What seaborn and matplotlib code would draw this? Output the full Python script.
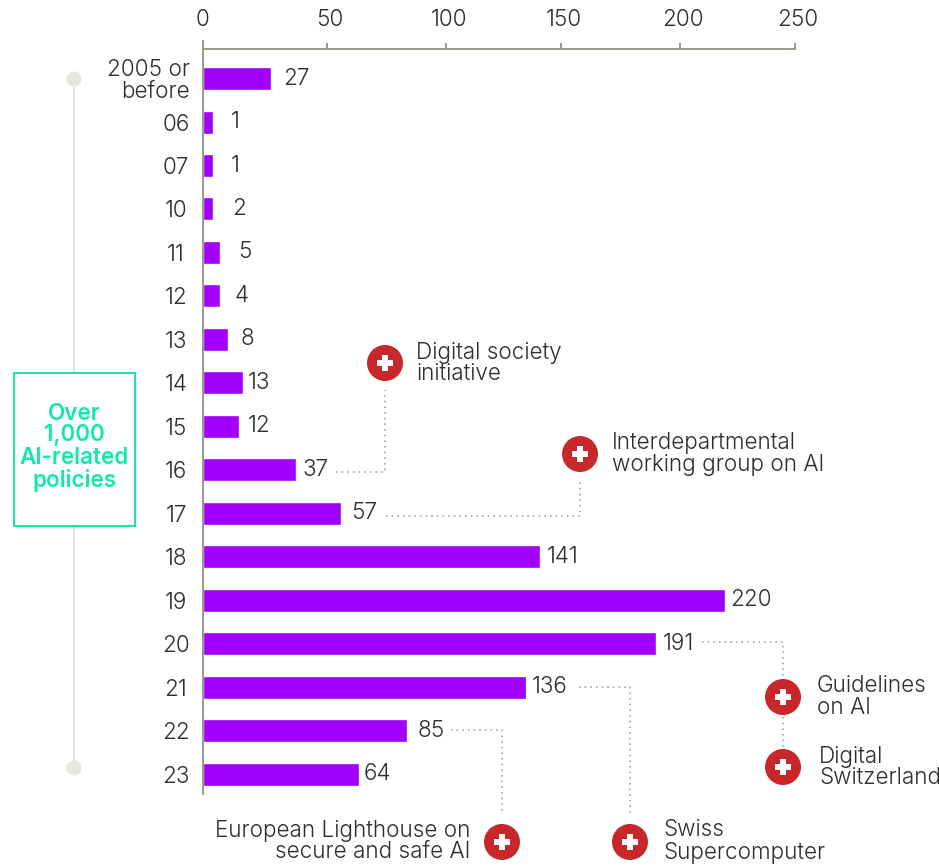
"""Swiss AI policy timeline: policies per year, with milestone callouts."""
import matplotlib
matplotlib.use("Agg")
import matplotlib.pyplot as plt
from matplotlib.patches import Circle, Rectangle
from matplotlib.transforms import ScaledTranslation
import pandas as pd
import seaborn as sns

# ── Data ───────────────────────────────────────────────────────────────────────
years = ["2005 or\nbefore", "06", "07", "10", "11", "12", "13", "14", "15",
         "16", "17", "18", "19", "20", "21", "22", "23"]
value_labels = [27, 1, 1, 2, 5, 4, 8, 13, 12, 37, 57, 141, 220, 191, 136, 85, 64]
# bar lengths as drawn (small bars are drawn wider than their label)
bar_lengths = [28.7, 4.2, 4.2, 4.2, 7.2, 7.2, 10.5, 16.9, 15.2, 39.2, 58.2,
               142.2, 220.3, 191.1, 136.3, 86.1, 65.8]
tick_labels = [0, 50, 100, 150, 200, 250]
tick_positions = [0, 52.4, 102.5, 151.2, 201.3, 250]
callouts = ["Digital society\ninitiative", "Interdepartmental\nworking group on AI",
            "Guidelines\non AI", "Digital\nSwitzerland",
            "European Lighthouse on\nsecure and safe AI", "Swiss\nSupercomputer"]
box_text = "Over\n1,000\nAI-related\npolicies"

# ── Style ──────────────────────────────────────────────────────────────────────
W, H = 939, 867
DPI = 100
PURPLE = "#a100ff"
INK = "#2e2e2e"
AXIS = "#9b9b8c"
RAIL = "#e6e6dc"
GREEN = "#12e8a8"
RED = "#c8282b"
PX = 72 / DPI
FONT = 16.2

sns.set_theme(style="white")
plt.rcParams["font.family"] = ["Inter", "DejaVu Sans"]
plt.rcParams["font.weight"] = 300
plt.rcParams["text.color"] = INK


def shift(dx):
    return ScaledTranslation(dx / DPI, 0, fig.dpi_scale_trans)


fig = plt.figure(figsize=(W / DPI, H / DPI), dpi=DPI)

# overlay in pixel coordinates for the rail, box and callouts
over = fig.add_axes([0, 0, 1, 1], zorder=2)
over.set_xlim(0, W)
over.set_ylim(H, 0)
over.axis("off")
over.patch.set_alpha(0)

# ── Bars ───────────────────────────────────────────────────────────────────────
ax = fig.add_axes([203 / W, (H - 794) / H, 592 / W, (794 - 48.5) / H], zorder=1)
df = pd.DataFrame({"year": years, "length": bar_lengths})
sns.barplot(data=df, x="length", y="year", color=PURPLE, saturation=1,
            width=0.529, orient="h", ax=ax)
ax.set_xlim(0, 250)
ax.set_ylim(16.45, -0.69)
ax.set_xlabel("")
ax.set_ylabel("")

for spine in ("right", "bottom"):
    ax.spines[spine].set_visible(False)
for spine in ("left", "top"):
    ax.spines[spine].set_color(AXIS)
    ax.spines[spine].set_linewidth(2 * PX)
ax.spines["left"].set_bounds(16.45, -0.862)

ax.xaxis.tick_top()
ax.set_xticks(tick_positions, labels=[str(t) for t in tick_labels])
ax.tick_params(axis="x", length=6 * PX, width=2 * PX, color=AXIS, pad=12 * PX,
               labelsize=FONT, labelcolor=INK)
ax.tick_params(axis="y", length=0, pad=27 * PX, labelsize=FONT, labelcolor=INK)

for lab in ax.get_yticklabels():
    lab.set_ha("center")
first = ax.get_yticklabels()[0]
first.set_ha("right")
first.set_multialignment("right")
first.set_linespacing(1.0)
first.set_transform(first.get_transform() + shift(14))
for lab in ax.get_xticklabels()[1:]:
    lab.set_transform(lab.get_transform() + shift(3))

label_gap = [25, 22, 22, 26, 25, 22, 20, 16, 20, 20, 23, 23, 26, 23, 24, 24, 19]
for i, (length, val, gap) in enumerate(zip(bar_lengths, value_labels, label_gap)):
    ax.annotate(str(val), xy=(length, i), xytext=(gap * PX, 0),
                textcoords="offset points", ha="center", va="center",
                fontsize=FONT, color=INK)

# ── Rail and box ───────────────────────────────────────────────────────────────
over.plot([74, 74], [79, 768], color=RAIL, lw=2 * PX, zorder=1)
for y in (79, 768):
    over.add_patch(Circle((74, y), 7.5, color=RAIL, lw=0, zorder=2))
over.add_patch(Rectangle((14, 372.5), 121, 153, facecolor="white", edgecolor=GREEN,
                         lw=2 * PX, zorder=3))
over.text(74, 447, box_text, ha="center", va="center", color=GREEN, fontsize=FONT,
          fontweight=600, linespacing=1.0, zorder=4)

# ── Callouts ───────────────────────────────────────────────────────────────────
DOT = dict(color=AXIS, lw=1.1, ls=(0, (1, 2.7)), zorder=1)
paths = [
    ([336, 385, 385], [472, 472, 390]),
    ([386, 580, 580], [516, 516, 478]),
    ([702, 783, 783], [642, 642, 678]),
    ([783, 783], [717, 748]),
    ([579, 630, 630], [687, 687, 817]),
    ([451, 502, 502], [730, 730, 815]),
]
for xs, ys in paths:
    over.plot(xs, ys, **DOT)

badges = [(385, 363), (580, 454), (783, 697), (783, 767), (502, 842), (630, 842)]
for cx, cy in badges:
    over.add_patch(Circle((cx, cy), 18, color=RED, lw=0, zorder=2))
    over.add_patch(Rectangle((cx - 8, cy - 2.7), 16, 5.4, color="white", lw=0, zorder=3))
    over.add_patch(Rectangle((cx - 2.7, cy - 8), 5.4, 16, color="white", lw=0, zorder=3))

text_pos = [(416, 363.5, "left"), (612, 453.5, "left"), (817, 697, "left"),
            (819, 767.5, "left"), (470, 841.5, "right"), (663, 841.5, "left")]
for (x, y, ha), txt in zip(text_pos, callouts):
    over.text(x, y, txt, ha=ha, va="center", multialignment=ha, fontsize=FONT,
              linespacing=1.0, color=INK)

fig.savefig("out.png", dpi=DPI)
